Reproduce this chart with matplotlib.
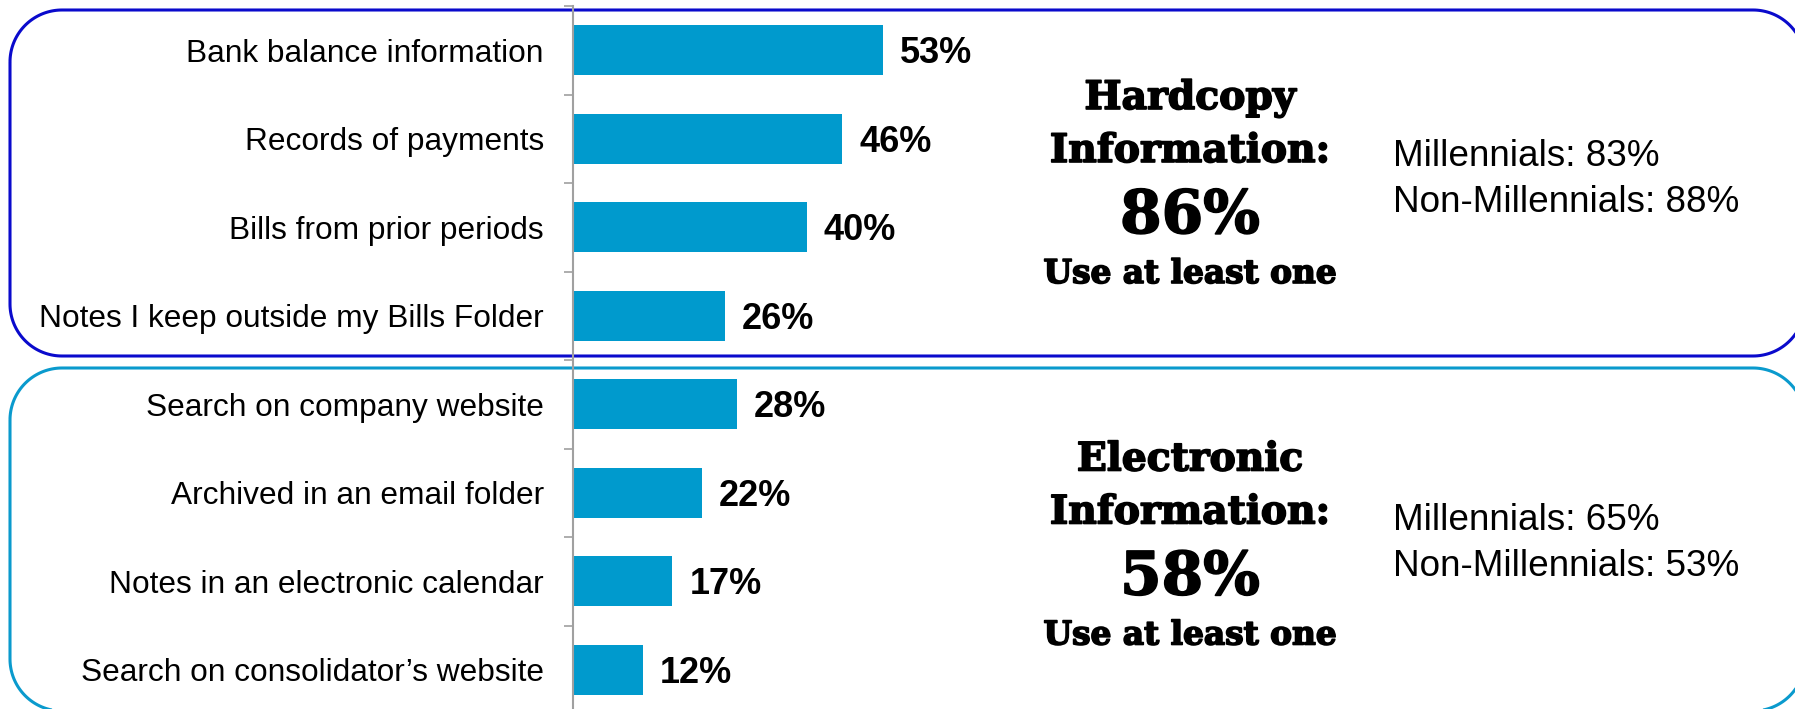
import matplotlib.pyplot as plt
import matplotlib.patheffects as pe
from matplotlib.patches import Polygon
import numpy as np

# survey data
categories = [
    "Bank balance information",
    "Records of payments",
    "Bills from prior periods",
    "Notes I keep outside my Bills Folder",
    "Search on company website",
    "Archived in an email folder",
    "Notes in an electronic calendar",
    "Search on consolidator\u2019s website",
]
values = [53, 46, 40, 26, 28, 22, 17, 12]

group_titles = [["Hardcopy", "Information:"], ["Electronic", "Information:"]]
group_totals = [86, 58]
millennials = [83, 65]
non_millennials = [88, 53]

BAR = "#009ACD"
DARK_BLUE = "#0A0ACC"
LIGHT_BLUE = "#0A9ACD"
SANS = ["Liberation Sans", "DejaVu Sans"]
SERIF = ["DejaVu Serif"]

W, H = 1795, 709


def rounded_rect(x0, y0, x1, y1, r, n=40):
    # outline of a rounded rectangle, y running downwards
    corners = [((x0 + r, y0 + r), np.pi, 1.5 * np.pi),
               ((x1 - r, y0 + r), 1.5 * np.pi, 2 * np.pi),
               ((x1 - r, y1 - r), 0, 0.5 * np.pi),
               ((x0 + r, y1 - r), 0.5 * np.pi, np.pi)]
    pts = []
    for (cx, cy), a0, a1 in corners:
        t = np.linspace(a0, a1, n)
        pts.append(np.column_stack([cx + r * np.cos(t), cy + r * np.sin(t)]))
    return np.vstack(pts)


fig = plt.figure(figsize=(W / 100, H / 100), dpi=100)
fig.patch.set_facecolor("white")

# background layer in pixel coords for the rounded frames and side text
bg = fig.add_axes([0, 0, 1, 1])
bg.set_xlim(0, W)
bg.set_ylim(H, 0)
bg.axis("off")

for x0, y0, x1, y1, col in [(10, 10, 1805, 356, DARK_BLUE),
                            (10, 368, 1805, 711, LIGHT_BLUE)]:
    bg.add_patch(Polygon(rounded_rect(x0, y0, x1, y1, 52), closed=True,
                         fc="none", ec=col, lw=2.2, clip_on=False))

# bar chart
top_px, pitch = 6, 88.5
n = len(categories)
ax = fig.add_axes([573 / W, (H - (top_px + n * pitch)) / H,
                   (W - 573) / W, n * pitch / H])
ax.patch.set_alpha(0)
y = np.arange(n)
ax.barh(y, values, height=50 / pitch, color=BAR)
ax.set_xlim(0, (W - 573) / 5.85)
ax.set_ylim(n - 0.5, -0.5)
for s in ["top", "right", "bottom"]:
    ax.spines[s].set_visible(False)
ax.spines["left"].set_color("#A0A0A0")
ax.spines["left"].set_linewidth(1.5)
ax.set_xticks([])
ax.set_yticks(y)
ax.set_yticklabels(categories, fontsize=22.8, family=SANS)
ax.tick_params(axis="y", which="major", length=0, pad=21)
ax.set_yticks(np.arange(n + 1) - 0.5, minor=True)
ax.tick_params(axis="y", which="minor", length=6.5, width=1.2, color="#A0A0A0")

for yi, v in zip(y, values):
    ax.annotate(f"{v}%", (v, yi), xytext=(12.2, -9.4), textcoords="offset points",
                ha="left", va="baseline", fontsize=26, fontweight="bold",
                family=SANS)

# group summaries
heavy = [pe.withStroke(linewidth=1.2, foreground="black")]
cx = 1190
for g in range(2):
    dy = g * 361.5
    t1, t2 = group_titles[g]
    for yy, txt, fs in [(109, t1, 28.3), (162, t2, 28.3),
                        (233, f"{group_totals[g]}%", 43),
                        (283, "Use at least one", 23.6)]:
        bg.text(cx, yy + dy, txt, ha="center", va="baseline", fontsize=fs,
                fontweight="bold", family=SERIF, path_effects=heavy)

side_y = [(156, 202), (521, 567)]
for g in range(2):
    bg.text(1393, side_y[g][0], f"Millennials: {millennials[g]}%", ha="left",
            va="center", fontsize=26.6, family=SANS)
    bg.text(1393, side_y[g][1], f"Non-Millennials: {non_millennials[g]}%",
            ha="left", va="center", fontsize=26.6, family=SANS)

fig.savefig("out.png", dpi=100)
